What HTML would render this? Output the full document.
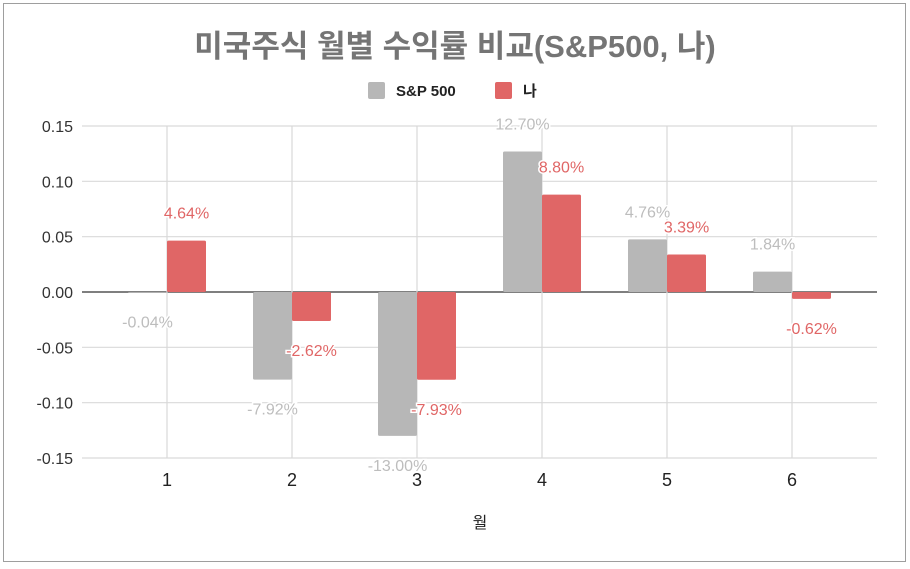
<!DOCTYPE html>
<html><head><meta charset="utf-8">
<style>
body{margin:0;background:#fff;font-family:"Liberation Sans","Noto Sans CJK KR",sans-serif;}
svg{display:block}
</style></head><body>
<svg id="c" width="910" height="569" xmlns="http://www.w3.org/2000/svg">
<rect x="3.5" y="3.5" width="902" height="558" fill="#fff" stroke="#9e9e9e"/>
<text x="455" y="57" text-anchor="middle" font-size="31" font-weight="bold" fill="#757575">미국주식 월별 수익률 비교(S&amp;P500, 나)</text>
<rect x="368" y="82" width="17" height="17" rx="2" fill="#b7b7b7"/>
<text x="396" y="96" font-size="15" font-weight="bold" fill="#222">S&amp;P 500</text>
<rect x="495" y="82" width="17" height="17" rx="2" fill="#e06666"/>
<text x="523" y="96" font-size="15" font-weight="bold" fill="#222">나</text>
<g id="grid"></g><g id="bars"></g><g id="labels"></g>
<text x="480" y="528" text-anchor="middle" font-size="16" fill="#222">월</text>
</svg>
<script>
const categories=["1","2","3","4","5","6"];
const sp500=[-0.0004,-0.0792,-0.13,0.127,0.0476,0.0184];
const me=[0.0464,-0.0262,-0.0793,0.088,0.0339,-0.0062];
const yTicks=[0.15,0.10,0.05,0.00,-0.05,-0.10,-0.15];
const NS="http://www.w3.org/2000/svg";
const L=82,R=877,T=126,B=458;
function y(v){return 292-v/0.15*(292-T);}
function xc(i){return 167+i*125;}
function mk(tag,attrs,parent,text){const e=document.createElementNS(NS,tag);for(const k in attrs)e.setAttribute(k,attrs[k]);if(text!==undefined)e.textContent=text;document.getElementById(parent).appendChild(e);return e;}
yTicks.forEach(t=>{
  const l=mk('line',{x1:L,x2:R,y1:y(t),y2:y(t),stroke:t===0?'#555':'#d9d9d9','stroke-width':t===0?1.5:1.2},'grid');
  
  
  const s=mk('text',{x:73,y:y(t)+6,'text-anchor':'end','font-size':16,fill:'#333'},'grid',t.toFixed(2));
  
  
});
categories.forEach((c,i)=>{
  const l=mk('line',{x1:xc(i),x2:xc(i),y1:T,y2:B,stroke:'#d9d9d9','stroke-width':1.2},'grid');
  
  
  const s=mk('text',{x:xc(i),y:486,'text-anchor':'middle','font-size':18,fill:'#222'},'grid',c);
  
  
  [[sp500[i],xc(i)-39,'#b7b7b7','#bdbdbd','bar-sp500'],[me[i],xc(i),'#e06666','#e06666','bar-me']].forEach(([v,x0,col,lc,nm])=>{
    const y0=Math.min(y(v),y(0)),h=Math.abs(y(v)-y(0));
    const b=mk('rect',{x:x0,y:y0,width:39,height:Math.max(h,0.5),fill:col,rx:1.5},'bars');
    
    
    const ly=v>=0?y(v)-22:y(v)+35;
    const t=mk('text',{x:x0+19.5,y:ly,'text-anchor':'middle','font-size':16,fill:lc,stroke:'#fff','stroke-width':3,'paint-order':'stroke'},'labels',(v*100).toFixed(2)+'%');
    
    
  });
});
</script>
</body></html>
